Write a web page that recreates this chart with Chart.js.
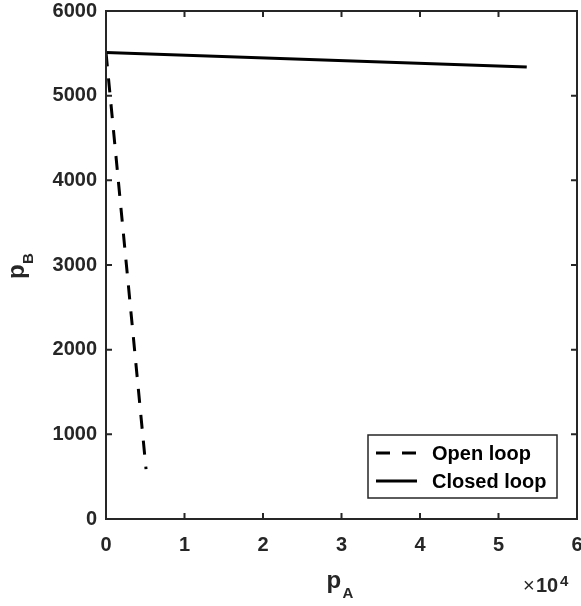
<!DOCTYPE html>
<html>
<head>
<meta charset="utf-8">
<script src="https://cdn.jsdelivr.net/npm/chart.js@4.4.1/dist/chart.umd.min.js"></script>
<style>
  html, body { margin: 0; padding: 0; background: #fff; }
  #wrap { width: 581px; height: 606px; }
</style>
</head>
<body>
<div id="wrap"><canvas id="graph" width="581" height="606"></canvas></div>
<script>
// values (pA in absolute units, axis shown as x10^4)
var openLoopA = [0, 5100];
var openLoopB = [5510, 590];
var closedLoopA = [0, 53600];
var closedLoopB = [5510, 5340];
var xTicks = [0, 10000, 20000, 30000, 40000, 50000, 60000];
var yTicks = [0, 1000, 2000, 3000, 4000, 5000, 6000];
var seriesLabels = ["Open loop", "Closed loop"];

var axisColor = "#262626";
var fam = "'Liberation Sans', Arial, sans-serif";

function toPoints(xs, ys) {
	var pts = [];
	for (var i = 0; i < xs.length; i++) pts.push({x: xs[i], y: ys[i]});
	return pts;
}

// box, inward ticks, axis titles, legend
var matlabLook = {
	id: "matlabLook",
	afterDraw: function(chart) {
		var ctx = chart.ctx;
		var a = chart.chartArea;
		var xs = chart.scales.x, ys = chart.scales.y;
		ctx.save();
		ctx.strokeStyle = axisColor;
		ctx.lineWidth = 2;
		ctx.strokeRect(a.left, a.top, a.right - a.left, a.bottom - a.top);
		var tl = 6;
		xTicks.forEach(function(v) {
			var px = xs.getPixelForValue(v);
			ctx.beginPath();
			ctx.moveTo(px, a.bottom); ctx.lineTo(px, a.bottom - tl);
			ctx.moveTo(px, a.top); ctx.lineTo(px, a.top + tl);
			ctx.stroke();
		});
		yTicks.forEach(function(v) {
			var py = ys.getPixelForValue(v);
			ctx.beginPath();
			ctx.moveTo(a.left, py); ctx.lineTo(a.left + tl, py);
			ctx.moveTo(a.right, py); ctx.lineTo(a.right - tl, py);
			ctx.stroke();
		});

		// x title p_A
		ctx.fillStyle = axisColor;
		ctx.textBaseline = "alphabetic";
		ctx.textAlign = "left";
		var cx = (a.left + a.right) / 2;
		ctx.font = "bold 24px " + fam;
		ctx.fillText("p", cx - 15, 588);
		ctx.font = "bold 15px " + fam;
		ctx.fillText("A", cx + 1, 598);

		// exponent
		ctx.font = "20px " + fam;
		ctx.fillText("\u00d7", 523, 592);
		ctx.font = "bold 20px " + fam;
		ctx.fillText("10", 536, 592);
		ctx.font = "bold 15px " + fam;
		ctx.fillText("4", 560, 586);

		// y title p_B (rotated)
		var cy = (a.top + a.bottom) / 2;
		ctx.save();
		ctx.translate(24, cy + 14);
		ctx.rotate(-Math.PI / 2);
		ctx.font = "bold 24px " + fam;
		ctx.fillText("p", 0, 0);
		ctx.font = "bold 15px " + fam;
		ctx.fillText("B", 15, 9);
		ctx.restore();

		// legend
		var lx = 368, ly = 435, lw = 189, lh = 63;
		ctx.fillStyle = "#fff";
		ctx.fillRect(lx, ly, lw, lh);
		ctx.lineWidth = 1.5;
		ctx.strokeStyle = axisColor;
		ctx.strokeRect(lx, ly, lw, lh);
		chart.data.datasets.forEach(function(ds, i) {
			var yy = ly + 18 + i * 28;
			ctx.beginPath();
			ctx.strokeStyle = ds.borderColor;
			ctx.lineWidth = ds.borderWidth;
			ctx.setLineDash(ds.borderDash || []);
			ctx.moveTo(lx + 8, yy);
			ctx.lineTo(lx + 49, yy);
			ctx.stroke();
			ctx.setLineDash([]);
			ctx.fillStyle = "#000";
			ctx.font = "bold 20px " + fam;
			ctx.textBaseline = "middle";
			ctx.fillText(ds.label, lx + 64, yy + 1);
		});
		ctx.restore();
	}
};

var ctx = document.getElementById("graph").getContext("2d");
var myChart = new Chart(ctx, {
	type: "scatter",
	data: {
		datasets: [
			{
				label: seriesLabels[0],
				data: toPoints(openLoopA, openLoopB),
				showLine: true,
				borderColor: "#000",
				borderWidth: 3,
				borderDash: [14, 12],
				pointRadius: 0,
				fill: false
			},
			{
				label: seriesLabels[1],
				data: toPoints(closedLoopA, closedLoopB),
				showLine: true,
				borderColor: "#000",
				borderWidth: 3,
				pointRadius: 0,
				fill: false
			}
		]
	},
	options: {
		responsive: false,
		animation: false,
		layout: { padding: 0 },
		plugins: { legend: { display: false }, tooltip: { enabled: false } },
		scales: {
			x: {
				type: "linear",
				min: 0, max: 60000,
				grid: { display: false, drawTicks: false },
				border: { display: false },
				afterBuildTicks: function(s) { s.ticks = xTicks.map(function(v) { return {value: v}; }); },
				afterFit: function(s) { s.height = 87; s.paddingLeft = 0; s.paddingRight = 4; },
				ticks: {
					color: axisColor,
					font: { family: fam, size: 20, weight: "bold" },
					padding: 14,
					maxRotation: 0,
					callback: function(v) { return String(v / 10000); }
				}
			},
			y: {
				type: "linear",
				min: 0, max: 6000,
				grid: { display: false, drawTicks: false },
				border: { display: false },
				afterBuildTicks: function(s) { s.ticks = yTicks.map(function(v) { return {value: v}; }); },
				afterFit: function(s) { s.width = 106; s.paddingTop = 11; s.paddingBottom = 0; },
				ticks: {
					color: axisColor,
					font: { family: fam, size: 20, weight: "bold" },
					padding: 9,
					callback: function(v) { return String(v); }
				}
			}
		}
	},
	plugins: [matlabLook]
});
</script>
</body>
</html>
